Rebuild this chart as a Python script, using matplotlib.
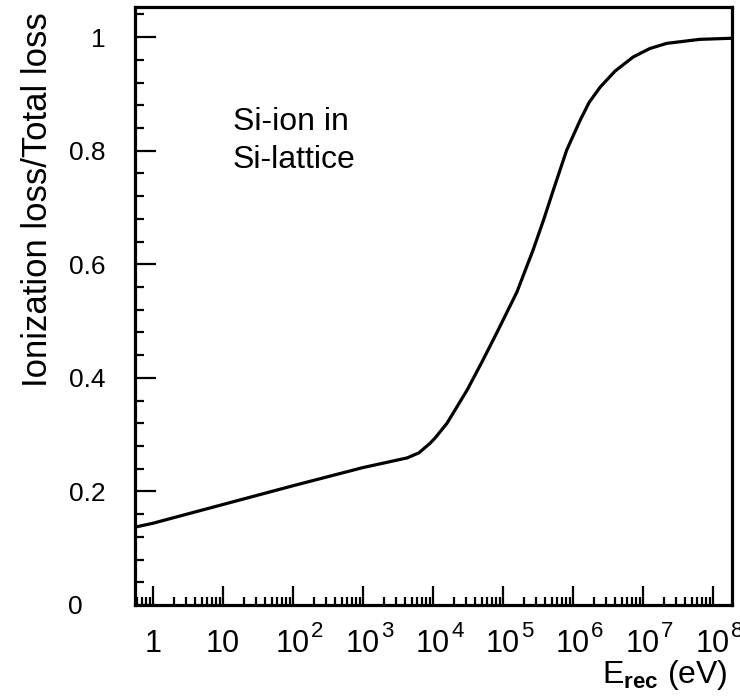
import matplotlib
matplotlib.use("Agg")
import matplotlib.pyplot as plt
from matplotlib.ticker import LogLocator, MultipleLocator, NullFormatter
import numpy as np

plt.rcParams['font.family'] = ['Liberation Sans', 'DejaVu Sans']
plt.rcParams['mathtext.fontset'] = 'custom'
plt.rcParams['mathtext.rm'] = 'Liberation Sans'
plt.rcParams['mathtext.bf'] = 'Liberation Sans:bold'
plt.rcParams['mathtext.it'] = 'Liberation Sans:italic'

# recoil energy (eV) and ionization fraction
e_rec = [0.55, 1, 10, 100, 1e3, 4.27e3, 6.31e3, 9.12e3, 1.07e4, 1.585e4,
         3.09e4, 5.01e4, 8.13e4, 1.58e5, 2.69e5, 3.8e5, 5.25e5, 8.13e5,
         1.26e6, 1.7e6, 2.45e6, 3.98e6, 7.24e6, 1.26e7, 2.19e7, 6.46e7, 1.87e8]
ratio = [0.137, 0.144, 0.177, 0.210, 0.242, 0.259, 0.268, 0.285, 0.294, 0.320,
         0.379, 0.428, 0.479, 0.551, 0.625, 0.678, 0.731, 0.801,
         0.853, 0.885, 0.912, 0.940, 0.965, 0.980, 0.989, 0.996, 0.998]

x_ticks = [1, 10, 1e2, 1e3, 1e4, 1e5, 1e6, 1e7, 1e8]
x_base = ['1', '10', '10', '10', '10', '10', '10', '10', '10']
x_exp = ['', '', '2', '3', '4', '5', '6', '7', '8']
y_ticks = [0, 0.2, 0.4, 0.6, 0.8, 1.0]
y_labels = ['0', '0.2', '0.4', '0.6', '0.8', '1']

fig = plt.figure(figsize=(7.4, 6.98), dpi=100)
ax = fig.add_axes([135/740, 1-605/698, 597/740, 598/698])

ax.plot(e_rec, ratio, color='black', lw=2.3, solid_capstyle='butt')

ax.set_xscale('log')
ax.set_xlim(0.553, 1.87e8)
ax.set_ylim(0, 1.053)

for s in ax.spines.values():
    s.set_linewidth(2.3)

ax.set_xticks(x_ticks)
ax.xaxis.set_minor_locator(LogLocator(base=10, subs=np.arange(2, 10), numticks=30))
ax.xaxis.set_minor_formatter(NullFormatter())
ax.set_yticks(y_ticks)
ax.yaxis.set_minor_locator(MultipleLocator(0.04))
ax.tick_params(axis='both', which='both', direction='in', top=False, right=False,
               labelbottom=False, labelleft=False, width=1.6)
ax.tick_params(axis='x', which='major', length=14)
ax.tick_params(axis='x', which='minor', length=6)
ax.tick_params(axis='y', which='major', length=15)
ax.tick_params(axis='y', which='minor', length=6.5)

# x tick labels: "10" centred on the tick, exponent beside it
for v, b, e in zip(x_ticks, x_base, x_exp):
    ax.annotate(b, xy=(v, 0), xycoords=('data', 'axes fraction'),
                xytext=(0, -33.5), textcoords='offset points',
                ha='center', va='baseline', fontsize=22)
    if e:
        ax.annotate(e, xy=(v, 0), xycoords=('data', 'axes fraction'),
                    xytext=(13.2, -22.8), textcoords='offset points',
                    ha='left', va='baseline', fontsize=16)

# y tick labels
for v, lab in zip(y_ticks, y_labels):
    if lab == '0':
        ax.annotate(lab, xy=(0, v), xycoords=('axes fraction', 'data'),
                    xytext=(-48, 0), textcoords='offset points',
                    ha='left', va='center_baseline', fontsize=19)
    else:
        ax.annotate(lab, xy=(0, v), xycoords=('axes fraction', 'data'),
                    xytext=(-21.5, 0), textcoords='offset points',
                    ha='right', va='center_baseline', fontsize=19)

ax.text((233-135)/597, (605-130)/598, 'Si-ion in', transform=ax.transAxes,
        fontsize=23, va='baseline', ha='left')
ax.text((233-135)/597, (605-168)/598, 'Si-lattice', transform=ax.transAxes,
        fontsize=23, va='baseline', ha='left')

fig.text(38/740, 1-12/698, 'Ionization loss/Total loss', rotation=90,
         ha='center', va='top', fontsize=25)
fig.text(728/740, 1-683/698, r'E$_{\mathbf{rec}}$ (eV)', ha='right',
         va='baseline', fontsize=23)

fig.savefig('out.png', dpi=100)
